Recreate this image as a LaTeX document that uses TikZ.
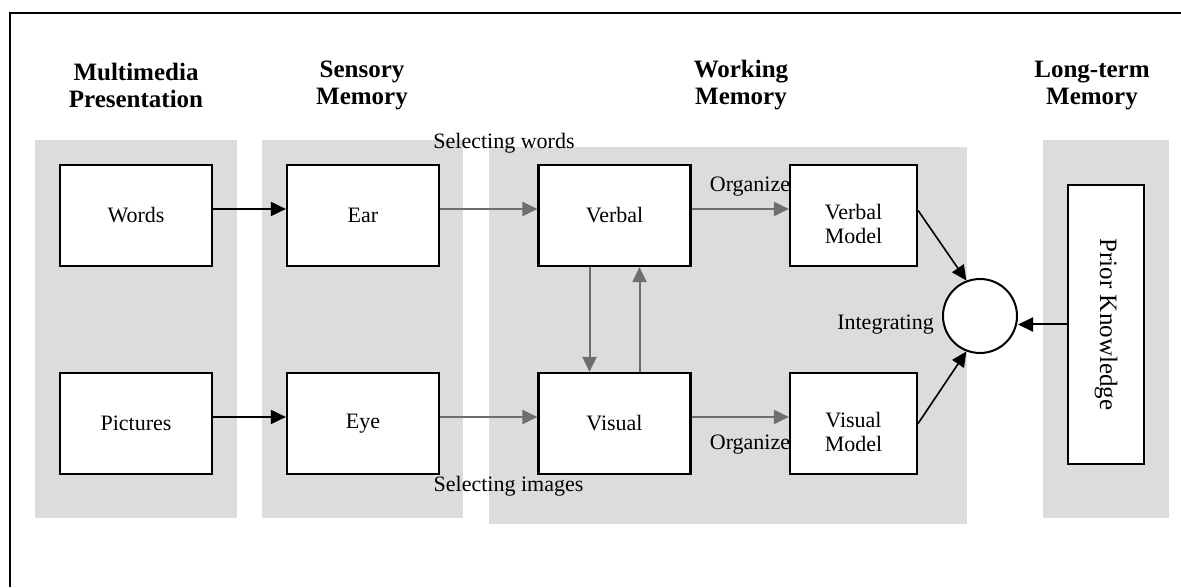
\documentclass[tikz,border=0pt]{standalone}
\usepackage{fontspec}
\setmainfont{Liberation Serif}
\usetikzlibrary{arrows.meta}
\definecolor{panelgray}{RGB}{220,220,220}
\definecolor{arrowgray}{RGB}{110,110,110}
\newcommand{\twoline}[2]{\raisebox{-16pt}[0pt][0pt]{\begin{tabular}{@{}c@{}}#1\\#2\end{tabular}}}
\begin{document}
\begin{tikzpicture}[x=1pt,y=1pt,
  panel/.style={fill=panelgray, draw=none},
  box/.style={draw=black, line width=2.2pt, fill=white, minimum width=152pt, minimum height=101pt, inner sep=0pt, font=\fontsize{22}{24}\selectfont, align=center},
  mbox/.style={box, minimum width=127pt},
  hdr/.style={font=\bfseries\fontsize{25}{27}\selectfont, align=center},
  lbl/.style={font=\fontsize{22}{24}\selectfont, inner sep=0pt},
  blk/.style={draw=black, line width=2pt, -{Triangle[length=15pt,width=14pt]}},
  thinblk/.style={blk, line width=1.6pt},
  gry/.style={draw=arrowgray, line width=2pt, -{Triangle[length=15pt,width=14pt]}},
]
\useasboundingbox (0,0) rectangle (1181,587);
% frame
\draw[line width=2pt] (10,0) -- (10,574) -- (1181,574);
% panels
\fill[panel] (35,69) rectangle (237,447);
\fill[panel] (262,69) rectangle (463,447);
\fill[panel] (489,63) rectangle (967,440);
\fill[panel] (1043,69) rectangle (1169,447);
% headers
\node[hdr] (h1) at (136,501.5) {Multimedia\\Presentation};
\node[hdr] (h2) at (362,501.5) {Sensory\\Memory};
\node[hdr] (h3) at (741,501.5) {Working\\Memory};
\node[hdr] (h4) at (1092,501.5) {Long-term\\Memory};
% boxes
\node[box] (words) at (136,371.5) {Words};
\node[box] (pics) at (136,163.5) {Pictures};
\node[box] (ear) at (363,371.5) {Ear};
\node[box] (eye) at (363,163.5) {Eye};
\node[box] (verbal) at (614.5,371.5) {Verbal};
\node[box] (visual) at (614.5,163.5) {Visual};
\node[mbox] (vmod) at (853.5,371.5) {\twoline{Verbal}{Model}};
\node[mbox] (imod) at (853.5,163.5) {\twoline{Visual}{Model}};
\node[box, rotate=-90, minimum width=279pt, minimum height=76pt, font=\fontsize{25}{27}\selectfont] (pk) at (1106,262.5) {Prior Knowledge};
\node[circle, draw=black, line width=2pt, fill=white, minimum size=74pt, inner sep=0pt] (ci) at (980,271) {};
% arrows
\draw[blk] ([yshift=6.5pt]words.east) -- ([yshift=6.5pt]ear.west);
\draw[blk] ([yshift=6.5pt]pics.east) -- ([yshift=6.5pt]eye.west);
\draw[gry] ([yshift=6.5pt]ear.east) -- ([yshift=6.5pt]verbal.west);
\draw[gry] ([yshift=6.5pt]eye.east) -- ([yshift=6.5pt]visual.west);
\draw[gry] ([yshift=6.5pt]verbal.east) -- ([yshift=6.5pt]vmod.west);
\draw[gry] ([yshift=6.5pt]visual.east) -- ([yshift=6.5pt]imod.west);
\draw[gry] ([xshift=-25pt]verbal.south) -- ([xshift=-25pt]visual.north);
\draw[gry] ([xshift=25pt]visual.north) -- ([xshift=25pt]verbal.south);
\draw[thinblk] ([yshift=5pt]vmod.east) -- (ci.111);
\draw[thinblk] (imod.east) -- (ci.249);
\draw[blk] (pk.south) -- (pk.south -| ci.east);
% labels
\node[lbl] (selw) at (504,444) {Selecting words};
\node[lbl] (seli) at (508.5,101) {Selecting images};
\node[lbl] (org1) at (750,400) {Organize};
\node[lbl] (org2) at (750,142) {Organize};
\node[lbl, anchor=east] (integ) at (934,262) {Integrating};
\end{tikzpicture}
\end{document}
